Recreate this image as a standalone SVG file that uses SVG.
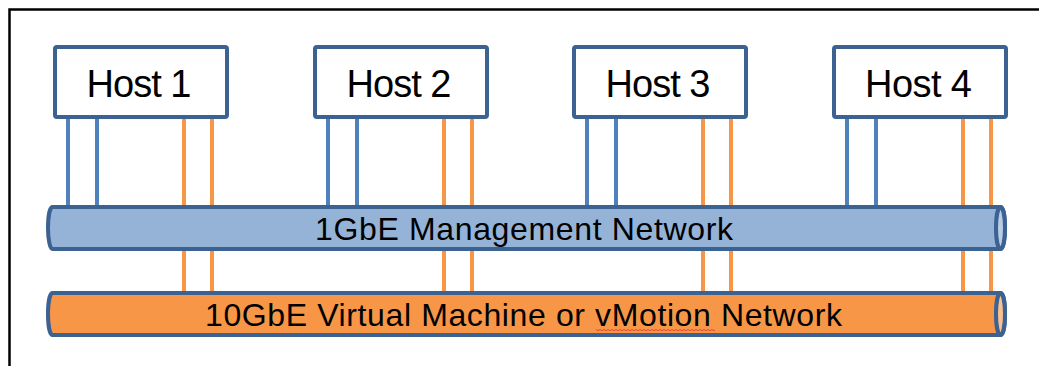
<svg xmlns="http://www.w3.org/2000/svg" width="1039" height="366" viewBox="0 0 1039 366">
<style>
.frame{fill:none;stroke:#000;stroke-width:2.5}
.host{fill:#fff;stroke:#3B6291;stroke-width:4}
.ht{font-family:"Liberation Sans",Arial,sans-serif;font-size:38px;fill:#000;text-anchor:middle}
.bt{font-family:"Liberation Sans",Arial,sans-serif;font-size:32px;fill:#000;text-anchor:middle}
.b{stroke:#4F81BD;stroke-width:4;fill:none}
.o{stroke:#F79646;stroke-width:4;fill:none}
.bus{stroke:#3B6291;stroke-width:4}
</style>
<rect width="1039" height="366" fill="#fff"/>
<path class="frame" d="M9.5,366 V9.5 H1039"/>
<g id="connectors">
<path class="b" d="M68,119V205M97,119V205M328,119V205M357,119V205M587,119V205M616,119V205M847,119V205M876,119V205"/>
<path class="o" d="M184,119V291M212,119V291M444,119V291M472,119V291M703,119V291M731,119V291M963,119V291M991,119V291"/>
</g>
<g id="mgmt">
<path class="bus" fill="#95B3D7" d="M52.5,207 H1000.5 A4.5,21 0 0 1 1000.5,249 H52.5 A4.5,21 0 0 1 52.5,207 Z"/>
<ellipse class="bus" fill="#B9CDE5" cx="1000.5" cy="228" rx="4.5" ry="21"/>
<text class="bt" x="524" y="240" textLength="418" lengthAdjust="spacing">1GbE Management Network</text>
</g>
<g id="vm">
<path class="bus" fill="#F79646" d="M52.5,293 H1000.5 A4.5,21 0 0 1 1000.5,335 H52.5 A4.5,21 0 0 1 52.5,293 Z"/>
<ellipse class="bus" fill="#FAC090" cx="1000.5" cy="314" rx="4.5" ry="21"/>
<text class="bt" x="523.5" y="326" textLength="637" lengthAdjust="spacing">10GbE Virtual Machine or vMotion Network</text>
<path d="M596,329.5 l2,1.2 l2,-1.2 l2,1.2 l2,-1.2 l2,1.2 l2,-1.2 l2,1.2 l2,-1.2 l2,1.2 l2,-1.2 l2,1.2 l2,-1.2 l2,1.2 l2,-1.2 l2,1.2 l2,-1.2 l2,1.2 l2,-1.2 l2,1.2 l2,-1.2 l2,1.2 l2,-1.2 l2,1.2 l2,-1.2 l2,1.2 l2,-1.2 l2,1.2 l2,-1.2 l2,1.2 l2,-1.2 l2,1.2 l2,-1.2 l2,1.2 l2,-1.2 l2,1.2 l2,-1.2 l2,1.2 l2,-1.2 l2,1.2 l2,-1.2 l2,1.2 l2,-1.2 l2,1.2 l2,-1.2 l2,1.2 l2,-1.2 l2,1.2 l2,-1.2 l2,1.2 l2,-1.2 l2,1.2 l2,-1.2 l2,1.2 l2,-1.2 l2,1.2 l2,-1.2 l2,1.2 l2,-1.2 l2,1.2 l1,-0.6" fill="none" stroke="#E03030" stroke-width="0.8"/>
</g>
<g id="host1"><rect class="host" x="55" y="47" width="172" height="70" rx="2"/><text class="ht" x="139" y="97" textLength="105" lengthAdjust="spacing">Host 1</text></g>
<g id="host2"><rect class="host" x="315" y="47" width="172" height="70" rx="2"/><text class="ht" x="399" y="97" textLength="105" lengthAdjust="spacing">Host 2</text></g>
<g id="host3"><rect class="host" x="574" y="47" width="172" height="70" rx="2"/><text class="ht" x="658" y="97" textLength="105" lengthAdjust="spacing">Host 3</text></g>
<g id="host4"><rect class="host" x="834" y="47" width="172" height="70" rx="2"/><text class="ht" x="918.5" y="97" textLength="107" lengthAdjust="spacing">Host 4</text></g>
</svg>
